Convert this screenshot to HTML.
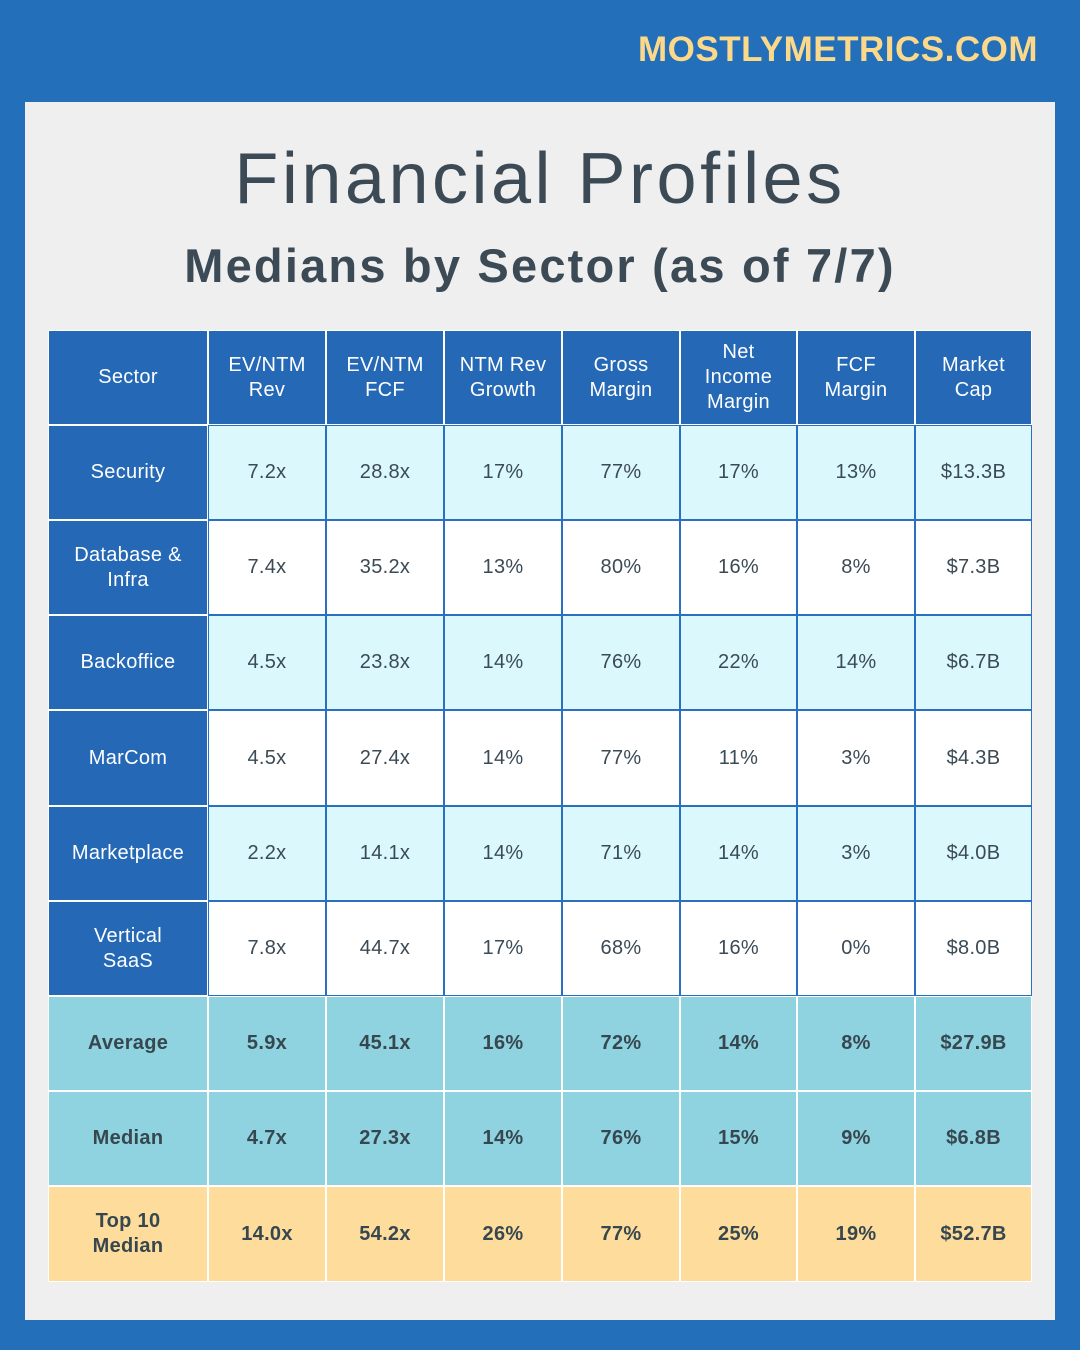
<!DOCTYPE html>
<html><head><meta charset="utf-8">
<style>
body{margin:0;width:1080px;height:1350px;background:#236fb9;position:relative;overflow:hidden;font-family:"Liberation Sans",sans-serif}
.brand{position:absolute;right:42px;top:30px;color:#fcd98a;font-weight:bold;font-size:35px;letter-spacing:0.5px}
.panel{position:absolute;left:25px;top:102px;width:1030px;height:1218px;background:#efefef}
.t1{position:absolute;left:0;width:1080px;top:138px;text-align:center;font-size:72px;color:#3b4a55;letter-spacing:3.5px}
.t2{position:absolute;left:0;width:1080px;top:238px;text-align:center;font-size:47px;font-weight:bold;color:#3b4a55;letter-spacing:2.2px}
.c{position:absolute;display:flex;align-items:center;justify-content:center;text-align:center;box-sizing:border-box;font-size:20px;line-height:25px;letter-spacing:0.3px}
</style></head><body>
<div class="brand">MOSTLYMETRICS.COM</div>
<div class="panel"></div>
<div class="t1">Financial Profiles</div>
<div class="t2">Medians by Sector (as of 7/7)</div>
<div id="tbl"></div>
<script>
const headers=["Sector","EV/NTM<br>Rev","EV/NTM<br>FCF","NTM Rev<br>Growth","Gross<br>Margin","Net<br>Income<br>Margin","FCF<br>Margin","Market<br>Cap"];
const sectors=["Security","Database &amp;<br>Infra","Backoffice","MarCom","Marketplace","Vertical<br>SaaS","Average","Median","Top 10<br>Median"];
const rows=[
["7.2x","28.8x","17%","77%","17%","13%","$13.3B"],
["7.4x","35.2x","13%","80%","16%","8%","$7.3B"],
["4.5x","23.8x","14%","76%","22%","14%","$6.7B"],
["4.5x","27.4x","14%","77%","11%","3%","$4.3B"],
["2.2x","14.1x","14%","71%","14%","3%","$4.0B"],
["7.8x","44.7x","17%","68%","16%","0%","$8.0B"],
["5.9x","45.1x","16%","72%","14%","8%","$27.9B"],
["4.7x","27.3x","14%","76%","15%","9%","$6.8B"],
["14.0x","54.2x","26%","77%","25%","19%","$52.7B"]];
const xs=[48,208,326,444,562,680,797,915,1032];
const ys=[330,425,520,615,710,806,901,996,1091,1186,1282];
const tbl=document.getElementById('tbl');
function cell(r,c,html){
  const d=document.createElement('div');d.className='c';
  
  
  const x0=xs[c],x1=xs[c+1],y0=ys[r+1],y1=ys[r+2];
  d.style.left=x0+'px';d.style.top=y0+'px';d.style.width=(x1-x0)+'px';d.style.height=(y1-y0)+'px';
  let bg,col,bc,fw='normal';
  if(r<0||(c==0&&r<6)){bg='#2468b6';col='#fff';bc='#ffffff';fw='500';}
  else if(r<6){bg=(r%2==0)?'#dbf8fd':'#ffffff';col='#3b4a55';bc='#2a6fc0';}
  else if(r<8){bg='#8fd3e0';col='#37474f';bc='#ffffff';fw='bold';}
  else{bg='#fedc9b';col='#37474f';bc='#ffffff';fw='bold';}
  d.style.background=bg;d.style.color=col;d.style.fontWeight=fw;
  d.style.border='1px solid '+bc;
  d.innerHTML=html;tbl.appendChild(d);
}
headers.forEach((h,c)=>cell(-1,c,h));
rows.forEach((row,r)=>{cell(r,0,sectors[r]);row.forEach((v,c)=>cell(r,c+1,v));});
</script>
</body></html>
